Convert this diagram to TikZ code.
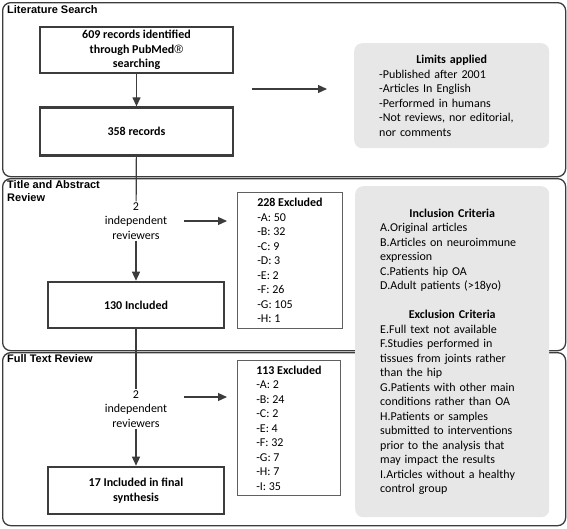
\documentclass[tikz,border=0pt]{standalone}
\usepackage{fontspec}
\setmainfont{Carlito}
\newfontfamily\arialfont{Liberation Sans}
\usetikzlibrary{arrows.meta, positioning}
\definecolor{linegray}{HTML}{3C3C3C}
\definecolor{thingray}{HTML}{606060}
\definecolor{boxgray}{HTML}{E7E7E7}

\begin{document}
\begin{tikzpicture}[
						x=1pt, y=-1pt,
						font=\fontsize{12}{14.5}\selectfont,
						>={Triangle[length=9pt, width=8pt]},
						panel/.style = {draw=linegray, line width=1.3pt, rounded corners=8pt, anchor=north west, minimum width=563pt},
						plabel/.style = {font=\arialfont\bfseries\fontsize{11}{13}\selectfont, anchor=north west, align=left, inner sep=0pt},
						mainbox/.style = {draw=linegray, line width=2.6pt, font=\bfseries\fontsize{12}{14.5}\selectfont, align=center},
						exbox/.style = {draw=thingray, line width=0.9pt, align=left, anchor=north west, minimum width=105pt},
						greybox/.style = {fill=boxgray, rounded corners=8pt, anchor=north west, inner xsep=25pt},
						reviewers/.style = {align=center, inner sep=1pt},
						flow/.style = {draw=linegray, line width=1.2pt}
					]
\useasboundingbox (0,0) rectangle (567,528);

% panels
\node[panel, minimum height=174pt] (litpanel) at (2,2) {};
\node[panel, minimum height=172pt] (tapanel) at (2,178) {};
\node[panel, minimum height=173pt] (ftpanel) at (2,352) {};
\node[plabel] (litlabel) at (7,5) {Literature Search};
\node[plabel] (talabel) at (7,180) {Title and Abstract\\Review};
\node[plabel] (ftlabel) at (7,354) {Full Text Review};

% main column
\node[mainbox, minimum width=193pt, minimum height=46pt] (pubmed) at (136.5,50) {609 records identified\\through PubMed{\arialfont\mdseries ®}\\searching};
\node[mainbox, minimum width=193pt, minimum height=48pt, below=32pt of pubmed] (records) {358 records};
\node[reviewers] (rev1) at (136,221) {2\\independent\\reviewers};
\node[mainbox, minimum width=176pt, minimum height=46pt] (incl) at (136,305) {130 Included};
\node[reviewers] (rev2) at (136,409) {2\\independent\\reviewers};
\node[mainbox, minimum width=176pt, minimum height=47pt] (final) at (136,490.5) {17 Included in final\\synthesis};

% excluded
\node[exbox, minimum height=136pt] (exc1) at (237,192) {\textbf{228 Excluded}\\-A: 50\\-B: 32\\-C: 9\\-D: 3\\-E: 2\\-F: 26\\-G: 105\\-H: 1};
\node[exbox, minimum height=135pt, minimum width=103pt] (exc2) at (237,360) {\textbf{113 Excluded}\\-A: 2\\-B: 24\\-C: 2\\-E: 4\\-F: 32\\-G: 7\\-H: 7\\-I: 35};

% grey boxes
\node[greybox, text width=145pt, minimum height=105pt] (limits) at (354,43) {\centering\textbf{Limits applied}\par\raggedright
	-Published after 2001\\-Articles In English\\-Performed in humans\\-Not reviews, nor editorial,\\nor comments};
\node[greybox, text width=144pt, minimum height=331pt] (criteria) at (355,186) {\centering\textbf{Inclusion Criteria}\par\raggedright
	A.Original articles\\B.Articles on neuroimmune\\expression\\C.Patients hip OA\\D.Adult patients (>18yo)\par\vskip14.5pt
	\centering\textbf{Exclusion Criteria}\par\raggedright
	E.Full text not available\\F.Studies performed in\\tissues from joints rather\\than the hip\\G.Patients with other main\\conditions rather than OA\\H.Patients or samples\\submitted to interventions\\prior to the analysis that\\may impact the results\\I.Articles without a healthy\\control group};

\coordinate (litmid) at (136,89);

\draw[flow, ->] (pubmed) -- (records);
\draw[flow, ->, shorten <=18pt, shorten >=27pt] (litmid -| pubmed.east) -- (litmid -| limits.west);
\draw[flow] (records) -- (rev1);
\draw[flow, ->] (rev1) -- (incl);
\draw[flow, ->, shorten <=16pt, shorten >=10pt] (rev1.east) -- (rev1.east -| exc1.west);
\draw[flow] (incl) -- (rev2);
\draw[flow, ->] (rev2) -- (final);
\draw[flow, ->, shorten <=16pt, shorten >=10pt] ([yshift=12pt]rev2.east) -- ([yshift=12pt]rev2.east -| exc2.west);
\end{tikzpicture}
\end{document}
